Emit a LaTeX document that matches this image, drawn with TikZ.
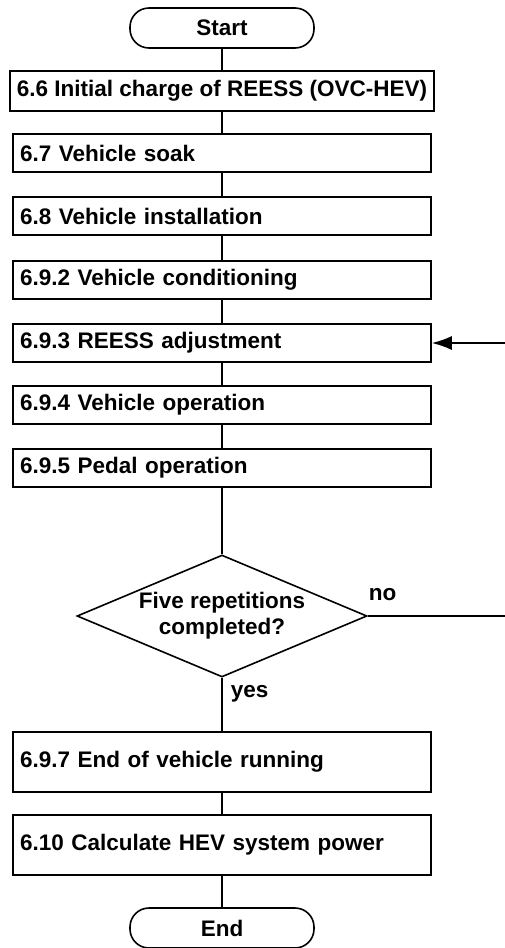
\documentclass[tikz,border=0pt]{standalone}
\usepackage{fontspec}
\setmainfont{Liberation Sans}
\usetikzlibrary{shapes.geometric,arrows.meta}

\begin{document}
\begin{tikzpicture}[x=1pt,y=-1pt,line width=1.6pt]
        \useasboundingbox (0,0) rectangle (505,948);
        \tikzstyle{every node}=[font=\fontsize{22.5}{26}\selectfont\bfseries]
        \tikzstyle{stepbox}=[draw,rectangle,minimum height=38pt,text width=404pt,inner xsep=7pt,inner ysep=0pt,align=left]
        \tikzstyle{endbox}=[draw,rectangle,rounded corners=19pt,minimum width=184pt,minimum height=40pt]
        \tikzstyle{decision}=[draw,diamond,aspect=2.4,inner sep=0pt,minimum width=290pt,minimum height=122pt,align=center]
        \node[endbox] (start) at (222,28) {Start};
        \node[draw,rectangle,minimum width=424pt,minimum height=40pt,inner sep=0pt] (s66) at (222,91) {6.6 Initial charge of REESS (OVC-HEV)};
        \node[stepbox] (s67) at (222,153) {6.7 Vehicle soak};
        \node[stepbox] (s68) at (222,216) {6.8 Vehicle installation};
        \node[stepbox] (s692) at (222,280) {6.9.2 Vehicle conditioning};
        \node[stepbox] (s693) at (222,343) {6.9.3 REESS adjustment};
        \node[stepbox] (s694) at (222,405) {6.9.4 Vehicle operation};
        \node[stepbox] (s695) at (222,468) {6.9.5 Pedal operation};
        \node[decision] (rep) at (222,616) {Five repetitions\\completed?};
        \node[stepbox,minimum height=60pt] (s697) at (222,762) {6.9.7 End of vehicle running};
        \node[stepbox,minimum height=60pt] (s610) at (222,845) {6.10 Calculate HEV system power};
        \node[endbox] (finish) at (222,928) {End};
        % loop back
        \coordinate (loopout) at (505,616);
        \coordinate (loopin) at (505,343);
        \foreach \a/\b in {start/s66,s66/s67,s67/s68,s68/s692,s692/s693,s693/s694,s694/s695,s695/rep,rep/s697,s697/s610,s610/finish}
            \draw (\a) -- (\b);
        \draw (rep.east) -- (loopout);
        \draw[-{Latex[length=20pt,width=14pt]}] (loopin) -- (s693.east);
        \node[anchor=base west,inner sep=0pt] (nolabel) at (368,600) {no};
        \node[anchor=base west,inner sep=0pt] (yeslabel) at (230,697) {yes};
    \end{tikzpicture}
\end{document}
